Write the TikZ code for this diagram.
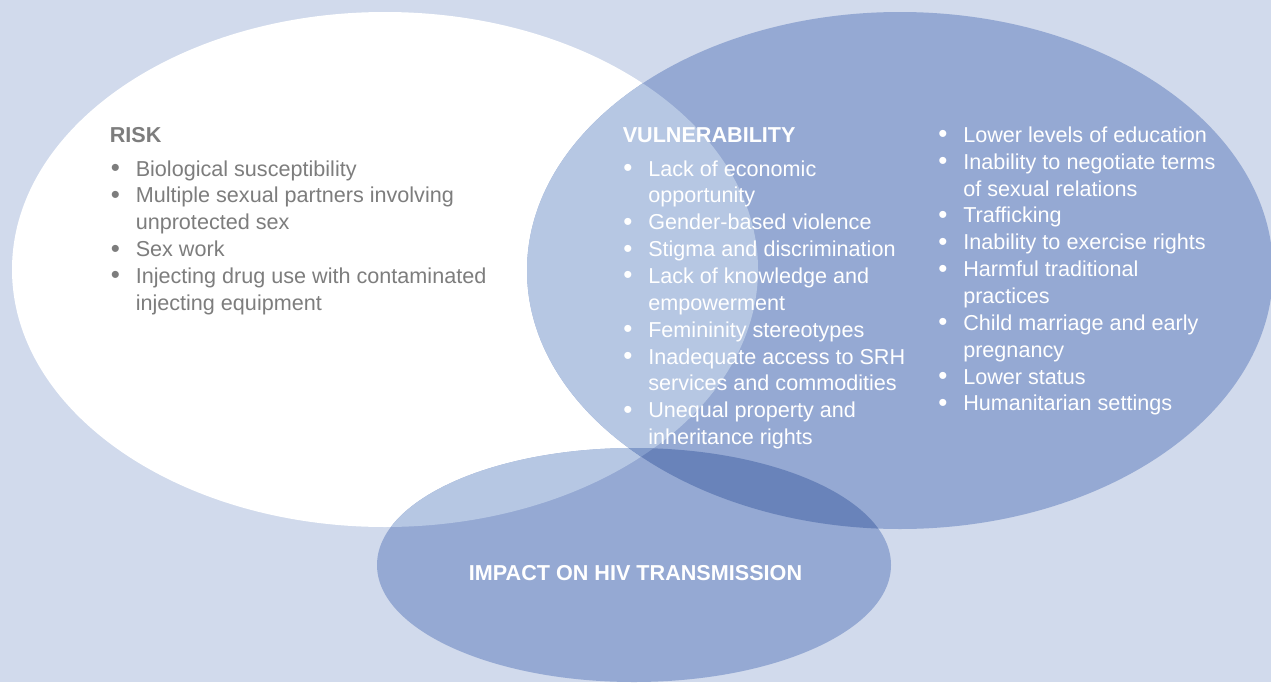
\documentclass[tikz,border=0pt]{standalone}
\usepackage{fontspec}
\setmainfont{Liberation Sans}
\definecolor{bg}{RGB}{209,218,236}
\definecolor{blueA}{RGB}{149,169,211}
\definecolor{blueB}{RGB}{182,199,227}
\definecolor{blueC}{RGB}{105,131,186}
\definecolor{blueD}{RGB}{130,155,202}
\definecolor{txtgray}{RGB}{125,125,125}
\newcommand\bul{\makebox[18.75pt][l]{\raisebox{-0.3pt}{\scalebox{1.2}{•}}}}
\tikzset{
  lst/.style={anchor=base west, inner sep=0pt, font=\fontsize{16.2}{20.15}\selectfont},
  hdr/.style={anchor=base west, inner sep=0pt, font=\fontsize{16.2}{20.15}\selectfont\bfseries},
}
\begin{document}
\begin{tikzpicture}[x=0.75pt,y=-0.75pt]
\useasboundingbox (0,0) rectangle (1271,682);
\clip (0,0) rectangle (1271,682);
\fill[bg] (0,0) rectangle (1271,682);
% risk ellipse
\fill[white] (385,269.5) ellipse [x radius=373, y radius=257.5];
% vulnerability ellipse
\fill[blueA] (900,270.5) ellipse [x radius=373, y radius=258.5];
\begin{scope}
  \clip (385,269.5) ellipse [x radius=373, y radius=257.5];
  \fill[blueB] (900,270.5) ellipse [x radius=373, y radius=258.5];
\end{scope}
% impact ellipse
\fill[blueA] (634,565) ellipse [x radius=257, y radius=117];
\begin{scope}
  \clip (385,269.5) ellipse [x radius=373, y radius=257.5];
  \fill[blueB] (634,565) ellipse [x radius=257, y radius=117];
\end{scope}
\begin{scope}
  \clip (900,270.5) ellipse [x radius=373, y radius=258.5];
  \fill[blueC] (634,565) ellipse [x radius=257, y radius=117];
\end{scope}
\begin{scope}
  \clip (385,269.5) ellipse [x radius=373, y radius=257.5];
  \clip (900,270.5) ellipse [x radius=373, y radius=258.5];
  \fill[blueD] (634,565) ellipse [x radius=257, y radius=117];
\end{scope}

% texts
\node[hdr, text=txtgray] (riskh) at (109.5,142) {RISK};
\node[lst, text=txtgray] (riskl) at (110.5,176) {\begin{tabular}[t]{@{}l@{}l@{}}
\bul & Biological susceptibility\\
\bul & Multiple sexual partners involving\\
     & unprotected sex\\
\bul & Sex work\\
\bul & Injecting drug use with contaminated\\
     & injecting equipment
\end{tabular}};

\node[hdr, text=white] (vulh) at (622.5,142) {VULNERABILITY};
\node[lst, text=white] (vull) at (623,176) {\begin{tabular}[t]{@{}l@{}l@{}}
\bul & Lack of economic\\
     & opportunity\\
\bul & Gender-based violence\\
\bul & Stigma and discrimination\\
\bul & Lack of knowledge and\\
     & empowerment\\
\bul & Femininity stereotypes\\
\bul & Inadequate access to SRH\\
     & services and commodities\\
\bul & Unequal property and\\
     & inheritance rights
\end{tabular}};

\node[lst, text=white] (vulr) at (938,142.3) {\begin{tabular}[t]{@{}l@{}l@{}}
\bul & Lower levels of education\\
\bul & Inability to negotiate terms\\
     & of sexual relations\\
\bul & Trafficking\\
\bul & Inability to exercise rights\\
\bul & Harmful traditional\\
     & practices\\
\bul & Child marriage and early\\
     & pregnancy\\
\bul & Lower status\\
\bul & Humanitarian settings
\end{tabular}};

\node[anchor=base, inner sep=0pt, text=white, font=\fontsize{16.2}{20.15}\selectfont\bfseries] (impact) at (635.5,580.7) {IMPACT ON HIV TRANSMISSION};
\end{tikzpicture}
\end{document}
